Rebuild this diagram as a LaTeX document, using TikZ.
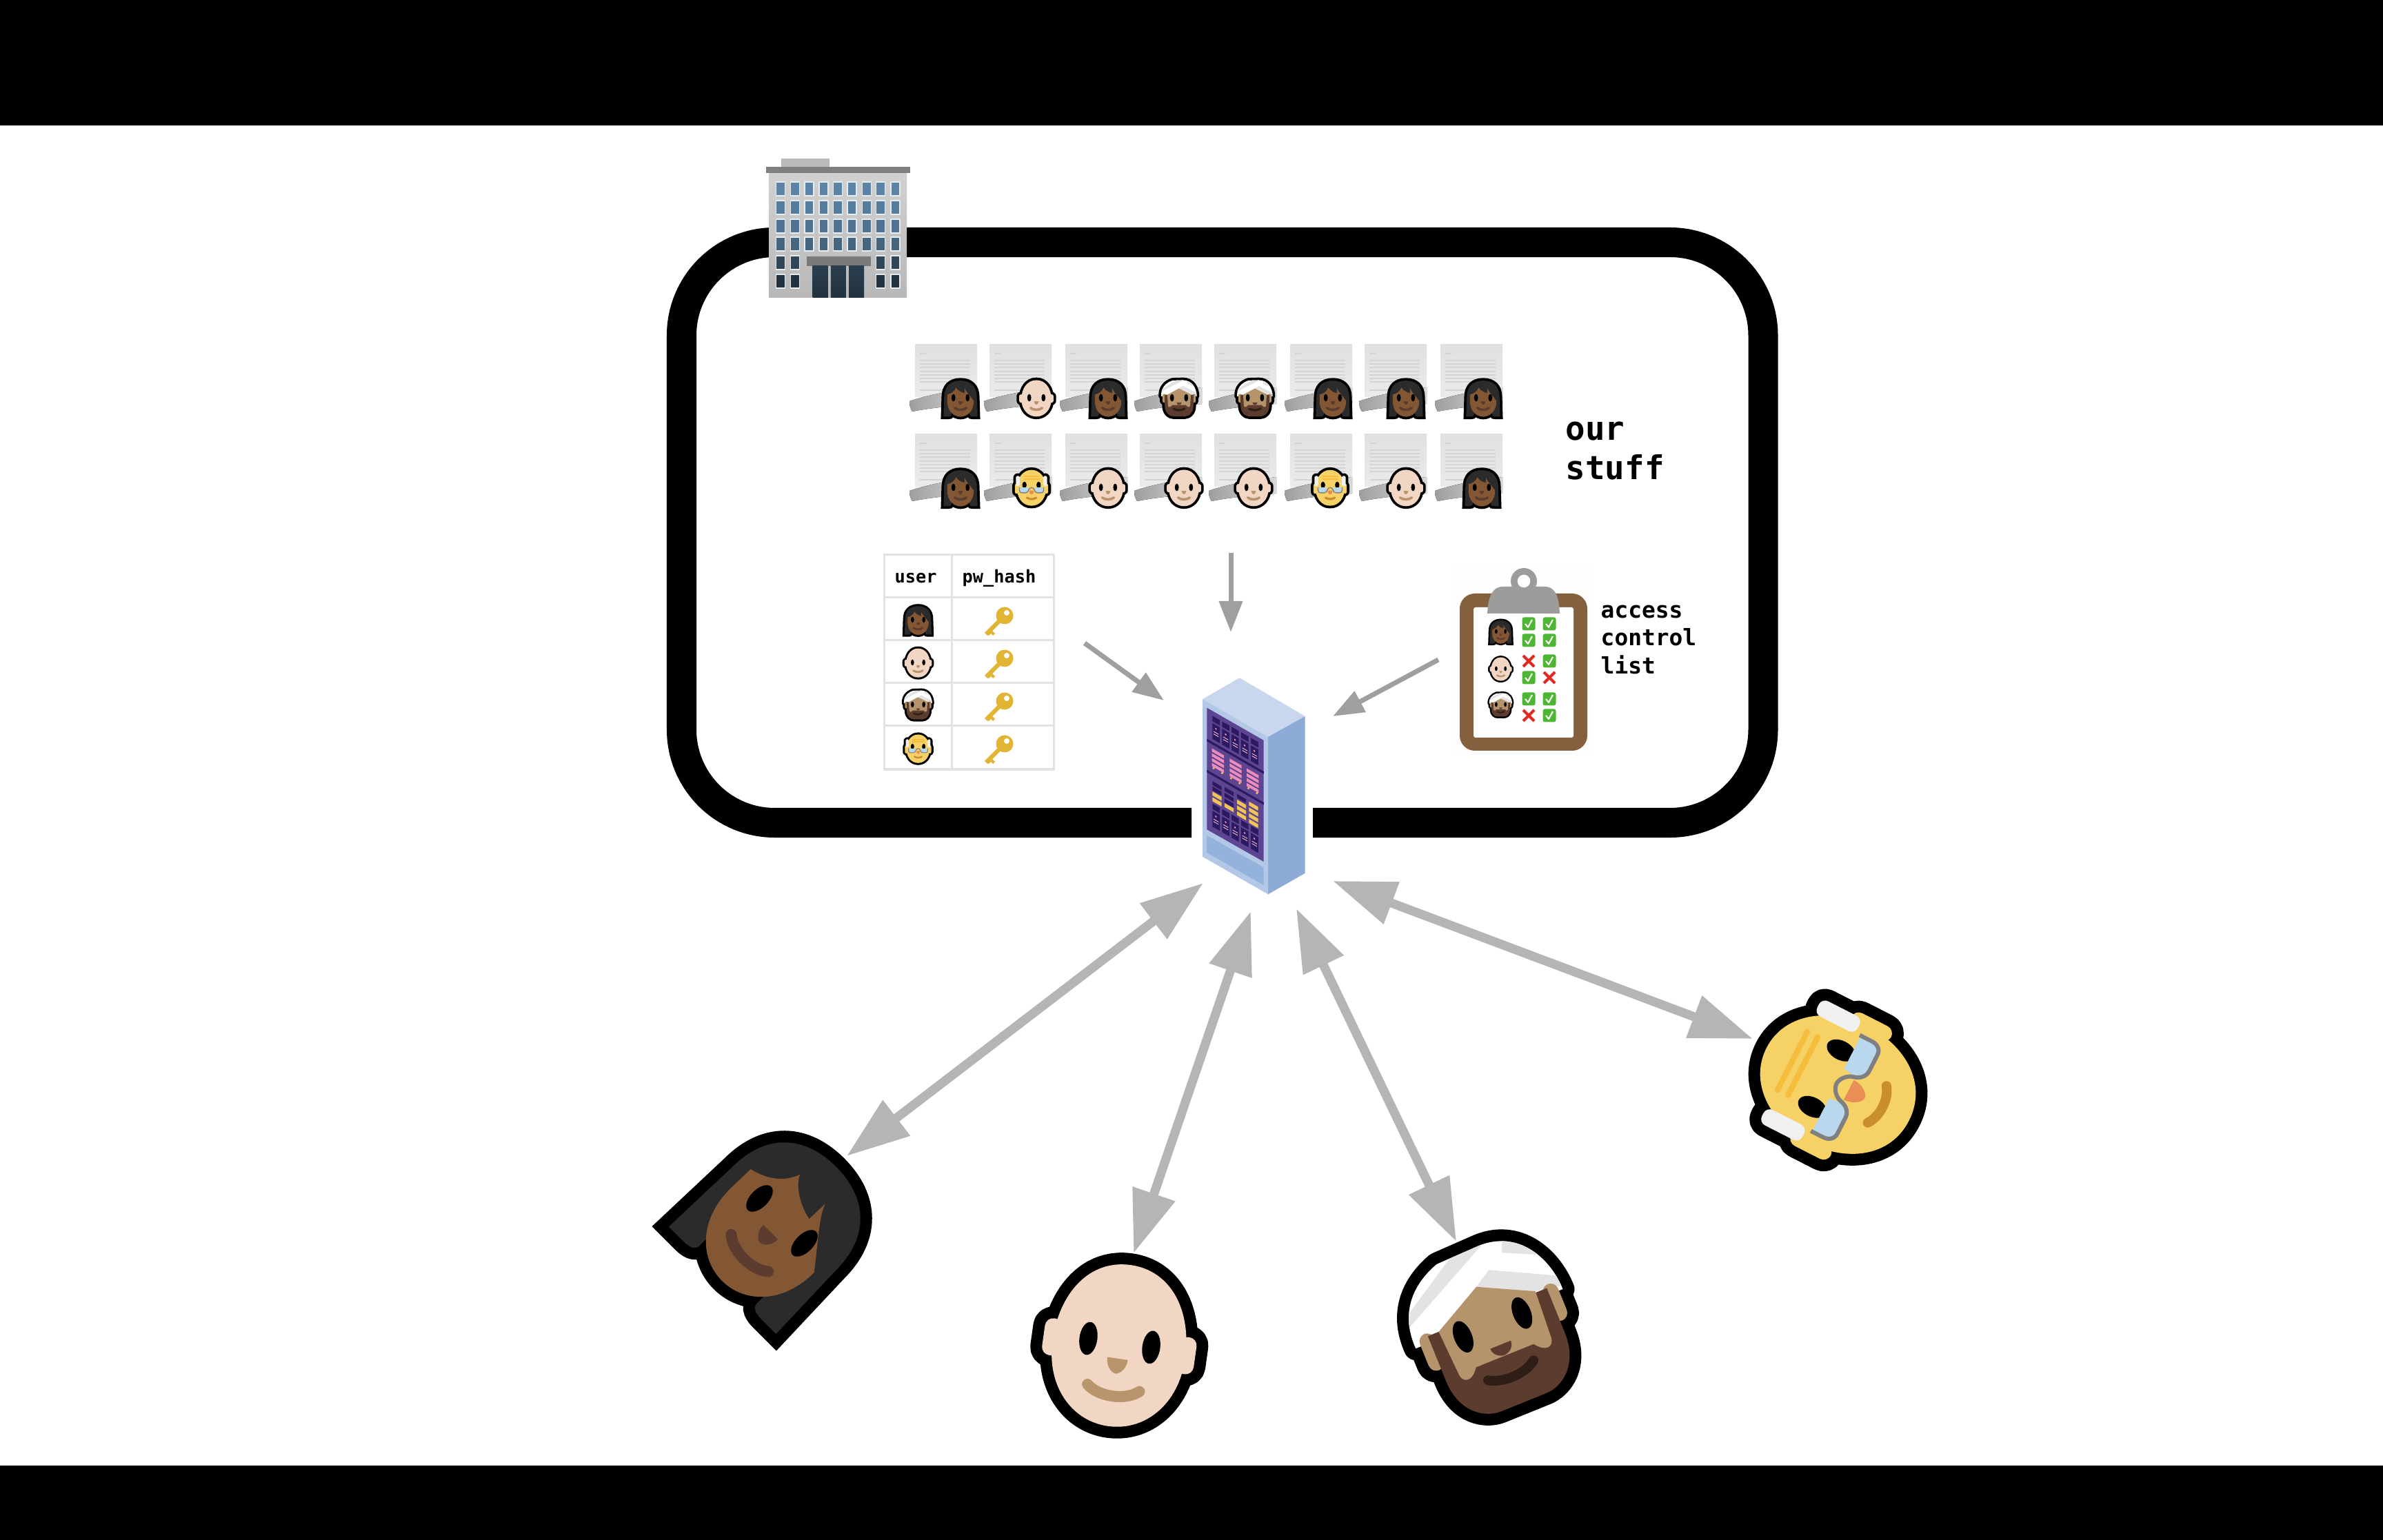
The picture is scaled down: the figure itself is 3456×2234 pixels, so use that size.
\documentclass[tikz,border=0pt]{standalone}
\usepackage{fontspec}
\setmonofont{DejaVu Sans Mono}
\usetikzlibrary{arrows.meta,calc,positioning}
\definecolor{arrowdark}{RGB}{159,159,159}
\definecolor{arrowlight}{RGB}{181,181,181}
\definecolor{gridgray}{RGB}{226,226,226}
\definecolor{hairdark}{RGB}{43,43,43}
\definecolor{skinbrown}{RGB}{132,87,52}
\definecolor{featbrown}{RGB}{93,60,48}
\definecolor{skinpale}{RGB}{242,214,196}
\definecolor{featpale}{RGB}{184,149,108}
\definecolor{skintan}{RGB}{181,147,107}
\definecolor{mouthdark}{RGB}{47,30,22}
\definecolor{turbangray}{RGB}{227,227,227}
\definecolor{skinyellow}{RGB}{246,209,101}
\definecolor{linesyellow}{RGB}{246,188,60}
\definecolor{mouthyellow}{RGB}{201,143,47}
\definecolor{noseorange}{RGB}{233,143,86}
\definecolor{lensblue}{RGB}{185,216,238}
\definecolor{framegray}{RGB}{128,128,128}
\definecolor{wintop}{RGB}{91,132,166}
\definecolor{winlow}{RGB}{34,50,62}
\definecolor{racktopc}{RGB}{201,215,238}
\definecolor{rackfront}{RGB}{178,200,230}
\definecolor{rackside}{RGB}{141,171,214}
\definecolor{rackrecess}{RGB}{148,178,220}
\definecolor{rackpurple}{RGB}{94,69,146}
\definecolor{rackdark}{RGB}{43,26,98}
\definecolor{rackpink}{RGB}{238,141,187}
\definecolor{rackyellow}{RGB}{242,196,85}
\definecolor{boardbrown}{RGB}{132,96,63}
\definecolor{clipgray}{RGB}{156,156,154}
\definecolor{okgreen}{RGB}{79,181,52}
\definecolor{crossred}{RGB}{224,42,32}
\definecolor{keygold}{RGB}{225,180,52}
\newcommand{\rackbar}[5]{\fill[#5] (#1,#2) -- ++(#3,0) -- ++(0,#4) -- ++(-#3,0) -- cycle;}
\newcommand{\nosepath}{(-15,23) -- (15,23) .. controls (15,36) and (6,45) .. (0,45) .. controls (-6,45) and (-15,36) .. (-15,23) -- cycle}
\newcommand{\smilepath}{(-38,66) .. controls (-20,82) and (20,82) .. (38,66)}
\newcommand{\womanhair}{(-110,122) -- (-80,122) .. controls (-70,122) and (-59,120) .. (-59,110) -- (-59,60) -- (59,60) -- (59,110) .. controls (59,120) and (70,122) .. (80,122) -- (110,122) -- (106,-5) .. controls (106,-72) and (66,-111) .. (0,-111) .. controls (-66,-111) and (-106,-72) .. (-106,-5) -- cycle}
\newcommand{\womanskin}{(-85,-21) .. controls (-62,-26) and (-38,-40) .. (-29,-66) .. controls (-22,-50) and (3,-34) .. (26,-30) -- (27,-62) .. controls (32,-45) and (55,-20) .. (86,20) .. controls (86,85) and (45,123) .. (0,123) .. controls (-45,123) and (-86,85) .. (-86,20) -- cycle}
\newcommand{\baldhead}{(0,-114) .. controls (60,-114) and (97,-60) .. (97,10) .. controls (97,75) and (55,122) .. (0,122) .. controls (-55,122) and (-97,75) .. (-97,10) .. controls (-97,-60) and (-60,-114) .. (0,-114) -- cycle}
\newcommand{\turbanpath}{(-116,-10) .. controls (-118,-62) and (-90,-96) .. (-42,-112) -- (25,-114) .. controls (84,-114) and (114,-62) .. (114,-10) -- cycle}
\newcommand{\beardpath}{(-93,-20) -- (93,-20) -- (93,50) .. controls (93,100) and (60,121) .. (35,121) -- (-35,121) .. controls (-60,121) and (-93,100) .. (-93,50) -- cycle}
\newcommand{\oldhead}{(0,-104) .. controls (60,-104) and (95,-44) .. (95,11) .. controls (95,74) and (60,128) .. (0,128) .. controls (-60,128) and (-95,74) .. (-95,11) .. controls (-95,-44) and (-60,-104) .. (0,-104) -- cycle}

\begin{document}
\begin{tikzpicture}[
    x=0.01cm, y=-0.01cm,
    line join=round,
    loop/.style={line width=0.43cm, black, rounded corners=1.35cm},
    gridline/.style={line width=0.03cm, gridgray},
    smallarrow/.style={line width=0.07cm, arrowdark, -{Triangle[length=0.45cm,width=0.33cm]}},
    bigarrow/.style={line width=0.13cm, arrowlight, {Triangle[length=0.91cm,width=0.62cm]}-{Triangle[length=0.91cm,width=0.62cm]}},
    stufftext/.style={inner sep=0pt, align=left, font=\ttfamily\bfseries\fontsize{13.5}{16.2}\selectfont},
    acltext/.style={inner sep=0pt, align=left, font=\ttfamily\bfseries\fontsize{9.35}{11.4}\selectfont},
    headtext/.style={inner sep=0pt, font=\ttfamily\bfseries\fontsize{7.2}{8.6}\selectfont},
    womanface/.pic={
        \begin{scope}[scale=#1]
        \draw[line width=#1*0.34cm, line join=miter] \womanhair;
        \draw[line width=#1*0.34cm] \womanskin;
        \fill[hairdark] \womanhair;
        \fill[skinbrown] \womanskin;
        \fill (-46,0) ellipse (13 and 24);
        \fill (46,0) ellipse (13 and 24);
        \fill[featbrown] \nosepath;
        \draw[featbrown, line cap=round, line width=#1*0.16cm] \smilepath;
        \end{scope}
    },
    baldface/.pic={
        \begin{scope}[scale=#1]
        \draw[line width=#1*0.34cm] \baldhead;
        \draw[line width=#1*0.34cm, rounded corners=#1*0.12cm] (85,-22) rectangle (111,32);
        \draw[line width=#1*0.34cm, rounded corners=#1*0.12cm] (-111,-22) rectangle (-85,32);
        \fill[skinpale, rounded corners=#1*0.12cm] (85,-22) rectangle (111,32);
        \fill[skinpale, rounded corners=#1*0.12cm] (-111,-22) rectangle (-85,32);
        \fill[skinpale] \baldhead;
        \fill (-46,0) ellipse (13 and 24);
        \fill (46,0) ellipse (13 and 24);
        \fill[featpale] \nosepath;
        \draw[featpale, line cap=round, line width=#1*0.16cm] \smilepath;
        \end{scope}
    },
    turbanface/.pic={
        \begin{scope}[scale=#1]
        \draw[line width=#1*0.34cm] \turbanpath;
        \draw[line width=#1*0.34cm] \beardpath;
        \draw[line width=#1*0.34cm, rounded corners=#1*0.12cm] (85,-25) rectangle (108,32);
        \draw[line width=#1*0.34cm, rounded corners=#1*0.12cm] (-108,-25) rectangle (-85,32);
        \fill[white] \turbanpath;
        \begin{scope}
        \clip \turbanpath;
        \fill[turbangray] (25,-76) -- (118,-29) -- (116,-15) -- (76,-22) -- (-1,-60) -- cycle;
        \fill[turbangray] (-16,-116) -- (34,-116) -- (-120,-38) -- (-120,-52) -- cycle;
        \fill[turbangray] (62,-117) -- (120,-60) -- (52,-92) -- cycle;
        \end{scope}
        \fill[skintan, rounded corners=#1*0.12cm] (85,-25) rectangle (108,32);
        \fill[skintan, rounded corners=#1*0.12cm] (-108,-25) rectangle (-85,32);
        \fill[featbrown] \beardpath;
        \fill[skintan] (-76,-20) -- (-1,-60) -- (76,-22) -- (72,50) .. controls (70,62) and (58,66) .. (45,48) -- (-45,48) .. controls (-58,66) and (-70,62) .. (-72,50) -- cycle;
        \fill (-46,0) ellipse (13 and 24);
        \fill (46,0) ellipse (13 and 24);
        \fill[featbrown] (-16,31) -- (16,31) .. controls (16,42) and (6,47) .. (0,47) .. controls (-6,47) and (-16,42) .. (-16,31) -- cycle;
        \draw[mouthdark, line cap=round, line width=#1*0.14cm] (-36,72) .. controls (-18,84) and (18,84) .. (36,70);
        \end{scope}
    },
    oldface/.pic={
        \begin{scope}[scale=#1]
        \draw[line width=#1*0.34cm] \oldhead;
        \draw[line width=#1*0.34cm, rounded corners=#1*0.12cm] (85,-15) rectangle (108,50);
        \draw[line width=#1*0.34cm, rounded corners=#1*0.12cm] (-108,-15) rectangle (-85,50);
        \draw[line width=#1*0.34cm, rounded corners=#1*0.1cm] (76,-65) rectangle (101,1);
        \draw[line width=#1*0.34cm, rounded corners=#1*0.1cm] (-101,-65) rectangle (-76,1);
        \fill[skinyellow, rounded corners=#1*0.12cm] (85,-15) rectangle (108,50);
        \fill[skinyellow, rounded corners=#1*0.12cm] (-108,-15) rectangle (-85,50);
        \fill[skinyellow] \oldhead;
        \fill[white!94!black, rounded corners=#1*0.1cm] (76,-65) rectangle (101,1);
        \fill[white!94!black, rounded corners=#1*0.1cm] (-101,-65) rectangle (-76,1);
        \draw[linesyellow, line cap=round, line width=#1*0.08cm] (-47,-62) -- (48,-62);
        \draw[linesyellow, line cap=round, line width=#1*0.08cm] (-47,-45) -- (48,-45);
        \fill (-46,-6) ellipse (14 and 22);
        \fill (46,-6) ellipse (14 and 22);
        \fill[noseorange] (-16,30) -- (16,30) .. controls (16,46) and (6,56) .. (0,56) .. controls (-6,56) and (-16,46) .. (-16,30) -- cycle;
        \draw[mouthyellow, line cap=round, line width=#1*0.14cm] (-30,76) .. controls (-14,88) and (14,88) .. (30,76);
        \fill[lensblue] (24,10) -- (78,10) -- (78,28) .. controls (78,38) and (72,44) .. (64,44) -- (38,44) .. controls (30,44) and (24,36) .. (22,28) -- cycle;
        \fill[lensblue] (-24,10) -- (-78,10) -- (-78,28) .. controls (-78,38) and (-72,44) .. (-64,44) -- (-38,44) .. controls (-30,44) and (-24,36) .. (-22,28) -- cycle;
        \draw[framegray, line width=#1*0.06cm] (78,8) -- (78,28) .. controls (78,38) and (72,44) .. (64,44) -- (38,44) .. controls (28,44) and (22,36) .. (20,28) .. controls (18,18) and (8,10) .. (0,10) .. controls (-8,10) and (-18,18) .. (-20,28) .. controls (-22,36) and (-28,44) .. (-38,44) -- (-64,44) .. controls (-72,44) and (-78,38) .. (-78,28) -- (-78,8);
        \end{scope}
    },
    docsheet/.pic={
        \fill[top color=black!12, bottom color=black!8] (0,0) rectangle (90,76);
        \draw[black!17, line width=0.015cm] (7,13) -- (16,13);
        \foreach \ly in {23,28,33,39,44,49,54,66} \draw[black!17, line width=0.012cm] (7,\ly) -- (80,\ly);
        \fill[left color=black!38, right color=black!15] (-8,82) .. controls (20,72) and (60,66) .. (90,62) -- (90,86) .. controls (60,88) and (20,92) .. (-4,97) .. controls (-7,92) and (-8,88) .. (-8,82) -- cycle;
    },
    keyglyph/.pic={
        \draw[keygold, line width=0.06cm] (-4,4) -- (-27,27);
        \fill[keygold] (-22,18) -- (-14,26) -- (-17,29) -- (-20,26) -- (-23,29) -- (-26,26) -- cycle;
        \fill[keygold] (0,0) circle (12.5);
        \fill[white] (3,-4) circle (4);
    },
    okbox/.pic={
        \fill[okgreen, rounded corners=0.03cm] (-9.5,-9.5) rectangle (9.5,9.5);
        \draw[white, line width=0.02cm] (-5,0) -- (-1,5) -- (5,-6);
    },
    crossmark/.pic={
        \draw[crossred, line width=0.04cm] (-8,-8) -- (8,8);
        \draw[crossred, line width=0.04cm] (-8,8) -- (8,-8);
    }
]
\useasboundingbox (0,0) rectangle (3456,2234);
\fill[white] (0,0) rectangle (3456,2234);

% Black bars
\fill[black] (0,0) rectangle (3456,182.5);
\fill[black] (0,2126) rectangle (3456,2234);

% Company outline
\draw[loop] (1904,1193.5) -- (2557,1193.5) -- (2557,351.5) -- (988.5,351.5) -- (988.5,1193.5) -- (1728,1193.5);

% Building
\fill[black!27] (1133,230) rectangle (1203,243);
\fill[top color=black!18, bottom color=black!28] (1115,250) rectangle (1315,432);
\fill[black!50] (1111,242) rectangle (1320,251);
\foreach \wy/\wp in {274/0,301/10,328/22,354/38}
  \foreach \wx in {1131.7,1152.7,1173.4,1194.4,1214.7,1235.4,1256.8,1277.1,1298.5}
    \filldraw[fill=winlow!\wp!wintop, draw=white!85!wintop, line width=0.012cm] (\wx-6.5,\wy-10) rectangle (\wx+6.5,\wy+10);
\foreach \wy/\wp in {381/75,408/100}
  \foreach \wx in {1131.7,1152.7,1277.1,1298.5}
    \filldraw[fill=winlow!\wp!wintop, draw=white!85!wintop, line width=0.012cm] (\wx-6.5,\wy-10) rectangle (\wx+6.5,\wy+10);
\fill[black!52] (1170,372) rectangle (1262.5,386);
\foreach \dx in {1178.7,1204.8,1231}
  \fill[top color=winlow!85!wintop, bottom color=winlow] (\dx,386) rectangle (\dx+22,432);

% Documents
\foreach \dy in {500,630}
  \foreach \dx in {1327,1435,1545,1653,1761,1871,1979,2089}
    \pic at (\dx,\dy) {docsheet};
\foreach \fx/\fy in {1393/577,1607/577,1933/577,2039/577,2151/577,1393/707,2149/707}
  \pic at (\fx,\fy) {womanface=0.224};
\foreach \fx/\fy in {1503/577,1607/707,1717/707,1818/707,2039/707}
  \pic at (\fx,\fy) {baldface=0.224};
\foreach \fx/\fy in {1710/577,1820/577}
  \pic at (\fx,\fy) {turbanface=0.224};
\foreach \fx/\fy in {1496/705,1929/705}
  \pic at (\fx,\fy) {oldface=0.224};
\node[stufftext, anchor=west] (stufflabel) at (2270,654) {our\\stuff};

% Password table
\draw[gridline] (1282,805) rectangle (1528,1116);
\draw[gridline] (1380,805) -- (1380,1116);
\foreach \ry in {867,929,991,1053}
  \draw[gridline] (1282,\ry) -- (1528,\ry);
\node[headtext] (userhead) at (1328,839) {user};
\node[headtext] (hashhead) at (1449,839) {pw\_hash};
\pic at (1331.5,899) {womanface=0.178};
\pic at (1331.5,961) {baldface=0.178};
\pic at (1331.5,1022) {turbanface=0.178};
\pic at (1331.5,1084) {oldface=0.178};
\foreach \ky in {893,955,1017,1079}
  \pic at (1457,\ky) {keyglyph};

% Access control list
\fill[white!99!orange] (2110,817) rectangle (2312,1093);
\fill[boardbrown, rounded corners=0.22cm] (2117,861) rectangle (2302,1089);
\fill[white, rounded corners=0.03cm] (2137,881) rectangle (2282,1070);
\fill[clipgray] (2210,843) circle (19);
\fill[clipgray] (2157,890) .. controls (2158,870) and (2162,851) .. (2180,851) -- (2240,851) .. controls (2258,851) and (2261,870) .. (2262,890) -- cycle;
\fill[white] (2210,843) circle (9.3);
\pic at (2176.5,916) {womanface=0.144};
\pic at (2176.5,970) {baldface=0.144};
\pic at (2176.5,1022) {turbanface=0.144};
\foreach \cx/\cy in {2217/905,2247/905,2217/929,2247/929,2247/959,2217/983,2217/1014,2247/1014,2247/1038}
  \pic at (\cx,\cy) {okbox};
\foreach \cx/\cy in {2217/959,2247/983,2217/1038}
  \pic at (\cx,\cy) {crossmark};
\node[acltext, anchor=west] (acllabel) at (2321,928) {access\\control\\list};

% Server rack
\fill[racktopc] (1797.7,983.3) -- (1892.7,1039) -- (1839,1069) -- (1744,1014.3) -- cycle;
\fill[rackside] (1839,1069) -- (1892.7,1039) -- (1892.7,1266.7) -- (1839,1297.3) -- cycle;
\fill[rackfront] (1744,1014.3) -- (1839,1069) -- (1839,1297.3) -- (1744,1242.7) -- cycle;
\fill[rackpurple] (1750.3,1026.7) -- (1832.7,1074) -- (1832.7,1250) -- (1750.3,1203.3) -- cycle;
\fill[rackrecess] (1750,1211.7) -- (1832.7,1258.3) -- (1832.7,1284) -- (1750,1236.7) -- cycle;
\begin{scope}[shift={(1750.3,1026.7)}, x={(0.00824cm,-0.00473cm)}, y={(0cm,-0.01766cm)}]
\foreach \gv in {4,76}
  \foreach \cu in {9.7,26.7,43.3,60.2,77.3} {
    \rackbar{\cu}{\gv}{13}{4.5}{rackdark}
    \rackbar{\cu}{\gv+6}{13}{13}{rackdark}
    \rackbar{\cu+5}{\gv+8.5}{2.5}{1.2}{rackpink}
    \rackbar{\cu+2}{\gv+12}{9}{0.6}{rackpink!60}
    \rackbar{\cu+2}{\gv+14}{9}{0.6}{rackpink!60}
  }
\rackbar{0}{25.5}{100}{2}{rackdark}
\rackbar{0}{51}{100}{2}{rackdark}
\foreach \cu in {9,40,70}
  \foreach \rv in {31,35,39,43} {
    \rackbar{\cu}{\rv}{21}{2.6}{rackpink}
  }
\foreach \cu in {11.7,26.7,42.5,57.5,73,88}
  \fill[rackyellow] (\cu,46.5) circle (0.018cm);
\foreach \cu/\rv/\bc in {9.7/57.7/rackdark,9.7/62/rackdark,9.7/66.2/rackyellow,9.7/70.9/rackyellow,31/56.8/rackdark,31/61.5/rackdark,31/66.2/rackdark,31/70/rackyellow,53/56.6/rackdark,53/61.3/rackyellow,53/66/rackyellow,53/70.8/rackyellow,74/57.2/rackyellow,74/62/rackyellow,74/66.8/rackyellow,74/71.5/rackyellow} {
  \rackbar{\cu}{\rv}{16}{3.2}{\bc}
}
\end{scope}

% People
\pic[rotate=-45] at (1134,1771) {womanface=1};
\pic[rotate=-8] at (1624,1948) {baldface=1};
\pic[rotate=22] at (2164.5,1922) {turbanface=1};
\pic[rotate=63] at (2654.5,1567.5) {oldface=1};

% Connections
\coordinate (tablefrom) at (1573,933);
\coordinate (stufffrom) at (1785,802);
\coordinate (aclfrom) at (2086,957);
\coordinate (racktable) at (1688,1016);
\coordinate (rackstuff) at (1785,917);
\coordinate (rackacl) at (1933,1039);
\coordinate (rackwoman) at (1745,1281);
\coordinate (rackbald) at (1814,1322);
\coordinate (rackturban) at (1880,1318);
\coordinate (rackold) at (1933,1278);
\coordinate (womantip) at (1228,1677);
\coordinate (baldtip) at (1644,1818);
\coordinate (turbantip) at (2112,1801);
\coordinate (oldtip) at (2542,1507);
\draw[smallarrow] (tablefrom) -- (racktable);
\draw[smallarrow] (stufffrom) -- (rackstuff);
\draw[smallarrow] (aclfrom) -- (rackacl);
\draw[bigarrow] (rackwoman) -- (womantip);
\draw[bigarrow] (rackbald) -- (baldtip);
\draw[bigarrow] (rackturban) -- (turbantip);
\draw[bigarrow] (rackold) -- (oldtip);

\end{tikzpicture}
\end{document}
